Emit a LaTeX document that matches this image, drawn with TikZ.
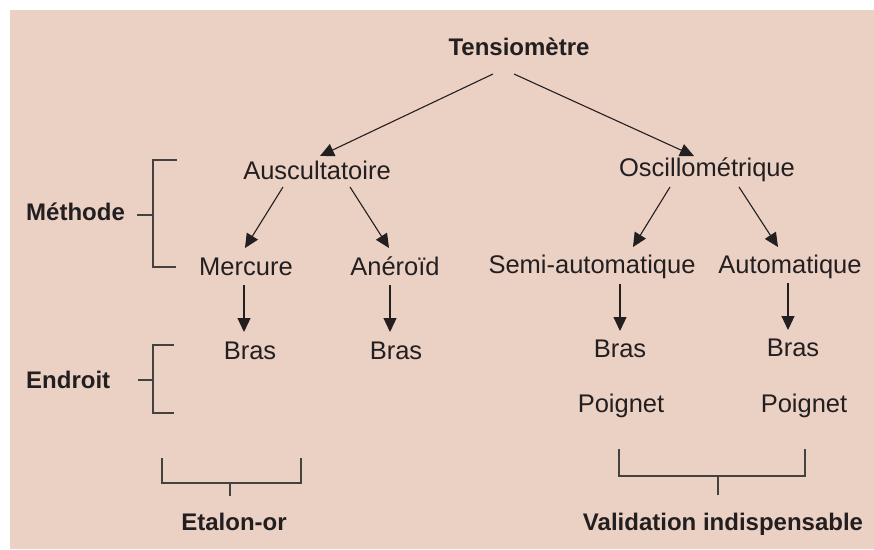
\documentclass[tikz,border=0pt]{standalone}
\usepackage{fontspec}
\setmainfont{Liberation Sans}
\usetikzlibrary{arrows.meta,calc}
\definecolor{bg}{RGB}{235,208,196}
\definecolor{ink}{RGB}{35,31,32}
\begin{document}
\begin{tikzpicture}[x=1pt,y=-1pt,
  lbl/.style={font=\fontsize{25.5}{30}\selectfont, text=ink, anchor=base, inner sep=0pt},
  hdr/.style={font=\bfseries\fontsize{24}{28}\selectfont, text=ink, anchor=base, inner sep=0pt},
  arr/.style={-{Triangle[length=14pt,width=13pt]}, line width=1.1pt, draw=ink},
  brk/.style={line width=1.2pt, draw=ink!85}]
\useasboundingbox (0,0) rectangle (874,549);
\fill[bg] (10,10) rectangle (874,549);

\node[hdr] (tens) at (519,55) {Tensiomètre};
\node[lbl] (ausc) at (317,179) {Auscultatoire};
\node[lbl] (osc) at (707,176) {Oscillométrique};
\node[lbl] (merc) at (246,275) {Mercure};
\node[lbl] (aner) at (395,275) {Anéroïd};
\node[lbl] (semi) at (592,273) {Semi-automatique};
\node[lbl] (auto) at (790,273) {Automatique};
\node[lbl] (bras1) at (250,359) {Bras};
\node[lbl] (bras2) at (396,359) {Bras};
\node[lbl] (bras3) at (620,357) {Bras};
\node[lbl] (bras4) at (793,356) {Bras};
\node[lbl] (poig1) at (621,412) {Poignet};
\node[lbl] (poig2) at (804,412) {Poignet};
\node[hdr, anchor=base west] (meth) at (26,220) {Méthode};
\node[hdr, anchor=base west] (endr) at (26,388) {Endroit};
\node[hdr] (etal) at (234,530) {Etalon-or};
\node[hdr] (valid) at (723,530) {Validation indispensable};

% arrows
\draw[arr] ($(tens.base)+(-26,19)$) -- ($(ausc.base)+(3,-23)$);
\draw[arr] ($(tens.base)+(-5,19)$) -- ($(osc.base)+(-13,-20)$);
\draw[arr] ($(ausc.base)+(-34,8)$) -- ($(merc.base)+(-1,-27)$);
\draw[arr] ($(ausc.base)+(33,8)$) -- ($(aner.base)+(-6,-27)$);
\draw[arr] ($(osc.base)+(-37,11)$) -- ($(semi.base)+(41,-26)$);
\draw[arr] ($(osc.base)+(32,11)$) -- ($(auto.base)+(-12,-26)$);
\draw[arr] ($(merc.base)+(-2,10)$) -- ($(bras1.base)+(-6,-27)$);
\draw[arr] ($(aner.base)+(-5,10)$) -- ($(bras2.base)+(-6,-27)$);
\draw[arr] ($(semi.base)+(28,11)$) -- ($(bras3.base)+(0,-26)$);
\draw[arr] ($(auto.base)+(-2,10)$) -- ($(bras4.base)+(-5,-26)$);

% brackets
\draw[brk] (177,160) -- (153,160) -- (153,267) -- (176,267);
\draw[brk] (137,215) -- (153,215);
\draw[brk] (174,345) -- (153,345) -- (153,413) -- (174,413);
\draw[brk] (138,380) -- (153,380);
\draw[brk] (162,458) -- (162,483) -- (301,483) -- (301,458);
\draw[brk] (230,483) -- (230,496);
\draw[brk] (619,449) -- (619,476) -- (805,476) -- (805,449);
\draw[brk] (718,476) -- (718,495);
\end{tikzpicture}
\end{document}
